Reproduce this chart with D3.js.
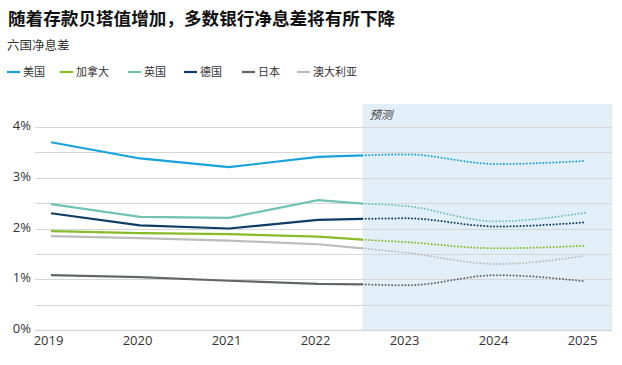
<!DOCTYPE html>
<html>
<head>
<meta charset="utf-8">
<script src="https://cdn.jsdelivr.net/npm/d3@7"></script>
<style>
  body { margin: 0; background: #fff; }
  text { font-family: "Open Sans", "Noto Sans CJK SC", sans-serif; }
  .cn { font-family: "Noto Sans CJK SC", "Noto Sans", sans-serif; }
  .grid line { stroke: #d6d6d6; }
  .axis path, .axis line { display: none; }
</style>
</head>
<body>
<svg id="chart"></svg>
<script>
// years, 2022.5 = last actual point where forecast starts
var years = [2019, 2020, 2021, 2022, 2022.5, 2023, 2024, 2025];
var yearTicks = [2019, 2020, 2021, 2022, 2023, 2024, 2025];
var yTicks = [0, 1, 2, 3, 4];
var forecastStart = 2022.5;

var names = ["美国", "加拿大", "英国", "德国", "日本", "澳大利亚"];
var colors = ["#17a2dc", "#86bc25", "#6fc2b4", "#0e3d66", "#636669", "#bbbcbc"];

var usa = [3.70, 3.38, 3.21, 3.41, 3.44, 3.46, 3.27, 3.33];
var canada = [1.95, 1.91, 1.89, 1.84, 1.78, 1.73, 1.61, 1.66];
var uk = [2.48, 2.23, 2.21, 2.56, 2.49, 2.44, 2.14, 2.31];
var germany = [2.30, 2.06, 2.00, 2.17, 2.19, 2.20, 2.04, 2.12];
var japan = [1.08, 1.04, 0.97, 0.91, 0.90, 0.88, 1.08, 0.96];
var australia = [1.85, 1.81, 1.76, 1.69, 1.61, 1.52, 1.30, 1.46];

var seriesValues = [usa, canada, uk, germany, japan, australia];

var screen = {width: 622, height: 365};
var plot = {left: 35, right: 612, top: 104};

var svg = d3.select("#chart")
    .attr("width", screen.width)
    .attr("height", screen.height);

var xScale = d3.scaleLinear()
    .domain([2019, 2025])
    .range([51, 585]);

var yScale = d3.scaleLinear()
    .domain([0, 4])
    .range([330, 127]);

// title + subtitle
svg.append("text")
    .classed("cn", true)
    .text("随着存款贝塔值增加，多数银行净息差将有所下降")
    .attr("x", 8)
    .attr("y", 25)
    .attr("font-size", 17.6)
    .attr("font-weight", "bold")
    .attr("fill", "#111");

svg.append("text")
    .classed("cn", true)
    .text("六国净息差")
    .attr("x", 7)
    .attr("y", 50)
    .attr("font-size", 12.5)
    .attr("fill", "#333");

// legend
var legendX = [7, 60, 128, 184, 242, 297];
var legend = svg.append("g")
    .selectAll("g")
    .data(names)
    .enter()
    .append("g")
    .attr("transform", function(d, i) { return "translate(" + legendX[i] + ",72)"; });

legend.append("line")
    .attr("x1", 0).attr("x2", 13)
    .attr("stroke", function(d, i) { return colors[i]; })
    .attr("stroke-width", 2.2);

legend.append("text")
    .classed("cn", true)
    .text(function(d) { return d; })
    .attr("x", 16)
    .attr("y", 4)
    .attr("font-size", 11)
    .attr("fill", "#333");

// forecast shading
svg.append("rect")
    .attr("x", xScale(forecastStart))
    .attr("y", plot.top)
    .attr("width", plot.right - xScale(forecastStart))
    .attr("height", yScale(0) - plot.top)
    .attr("fill", "#e2eff9");

svg.append("text")
    .classed("cn", true)
    .text("预测")
    .attr("x", xScale(forecastStart) + 7)
    .attr("y", 119)
    .attr("font-size", 11.5)
    .attr("font-style", "italic")
    .attr("fill", "#444");

// grid lines every 0.5%
svg.append("g")
    .classed("grid", true)
    .selectAll("line")
    .data(d3.range(0, 4.01, 0.5))
    .enter()
    .append("line")
    .attr("x1", plot.left)
    .attr("x2", plot.right)
    .attr("y1", function(d) { return Math.round(yScale(d)) + 0.5; })
    .attr("y2", function(d) { return Math.round(yScale(d)) + 0.5; })
    .attr("stroke-width", d => d === 0 ? 1.3 : 1);

// axes
var yAxis = d3.axisLeft(yScale)
    .tickValues(yTicks)
    .tickFormat(function(d) { return d + "%"; })
    .tickSize(0)
    .tickPadding(0);

svg.append("g")
    .classed("axis", true)
    .attr("transform", "translate(31,0)")
    .call(yAxis)
    .selectAll("text")
    .attr("font-size", 13)
    .attr("fill", "#333")
    .attr("dy", "0.2em");

var xAxis = d3.axisBottom(xScale)
    .tickValues(yearTicks)
    .tickFormat(d3.format("d"))
    .tickSize(0)
    .tickPadding(0);

svg.append("g")
    .classed("axis", true)
    .attr("transform", "translate(-3," + (yScale(0) + 6) + ")")
    .call(xAxis)
    .selectAll("text")
    .attr("font-size", 13)
    .attr("fill", "#333");

svg.selectAll(".axis .domain").remove();

// lines
var actualLine = d3.line()
    .x(function(d) { return xScale(d.year); })
    .y(function(d) { return yScale(d.value); });

var forecastLine = d3.line()
    .x(function(d) { return xScale(d.year); })
    .y(function(d) { return yScale(d.value); })
    .curve(d3.curveMonotoneX);

var series = seriesValues.map(function(vals, i) {
    return {
        color: colors[i],
        points: vals.map(function(v, j) { return {year: years[j], value: v}; })
    };
});

// draw in back-to-front order so the darker lines sit on top
var order = [5, 4, 1, 2, 3, 0];
var lines = svg.append("g")
    .selectAll("g")
    .data(order.map(function(i) { return series[i]; }))
    .enter()
    .append("g")
    .attr("fill", "none")
    .attr("stroke", function(s) { return s.color; });

lines.append("path")
    .attr("d", function(s) {
        return actualLine(s.points.filter(function(p) { return p.year <= forecastStart; }));
    })
    .attr("stroke-width", 2.2);

lines.append("path")
    .attr("d", function(s) {
        return forecastLine(s.points.filter(function(p) { return p.year >= forecastStart; }));
    })
    .attr("stroke-width", 2)
    .attr("stroke-linecap", "round")
    .attr("stroke-dasharray", "0,3.3");
</script>
</body>
</html>
